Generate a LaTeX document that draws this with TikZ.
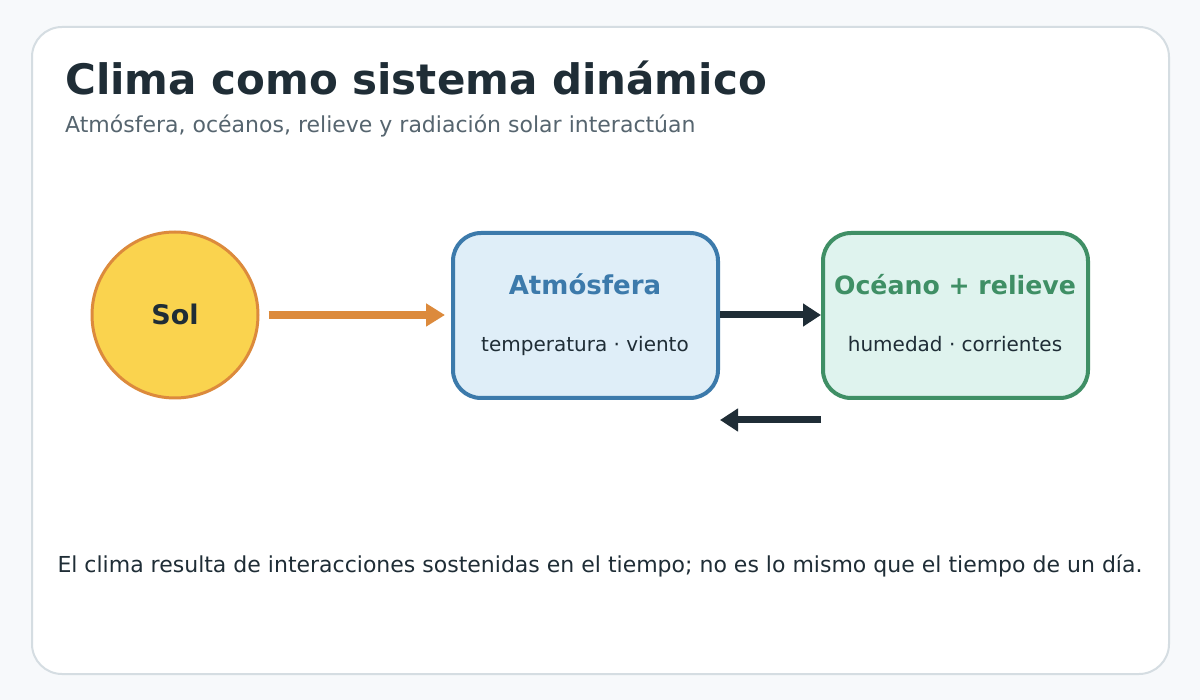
\documentclass[tikz,border=0pt]{standalone}
\usepackage{fontspec}
\setmainfont{DejaVu Sans}
\usetikzlibrary{arrows.meta,positioning}
\definecolor{pagebg}{HTML}{F7F9FB}
\definecolor{cardline}{HTML}{D5DDE2}
\definecolor{ink}{HTML}{1F2D36}
\definecolor{subink}{HTML}{56656F}
\definecolor{sunfill}{HTML}{FAD34E}
\definecolor{sunline}{HTML}{DC8A3C}
\definecolor{atmfill}{HTML}{DFEEF8}
\definecolor{atmline}{HTML}{3C7AAB}
\definecolor{ocefill}{HTML}{DFF3EE}
\definecolor{oceline}{HTML}{3F8F65}
\tikzset{
  px/.style={x=1pt,y=-1pt},
  sysbox/.style={rounded corners=28pt, line width=4pt, minimum width=265pt, minimum height=165pt, inner sep=0pt},
  boxtitle/.style={font=\fontsize{26}{30}\selectfont\bfseries, anchor=base},
  boxsub/.style={font=\fontsize{20}{24}\selectfont, text=ink, anchor=base},
  flowarrow/.style={line width=7pt, draw=ink, -{Triangle[length=18pt,width=22pt]}},
}
\begin{document}
\begin{tikzpicture}[px]
\useasboundingbox (0,0) rectangle (1200,700);
\fill[pagebg] (0,0) rectangle (1200,700);
\draw[cardline, fill=white, line width=2pt, rounded corners=30pt] (32,27) rectangle (1169,674);

\node[anchor=base west, font=\fontsize{42}{50}\selectfont\bfseries, text=ink, inner sep=0pt] (title) at (65,95) {Clima como sistema dinámico};
\node[anchor=base west, font=\fontsize{22}{26}\selectfont, text=subink, inner sep=0pt] (subtitle) at (65,133) {Atmósfera, océanos, relieve y radiación solar interactúan};

\node[circle, minimum size=166pt, inner sep=0pt, fill=sunfill, draw=sunline, line width=3pt] (sol) at (175,315) {};
\node[font=\fontsize{27}{31}\selectfont\bfseries, text=ink, anchor=base] (soltext) at (175,325) {Sol};

\node[sysbox, fill=atmfill, draw=atmline] (atm) at (585.5,315.5) {};
\node[boxtitle, text=atmline] (atmtitle) at (585,295) {Atmósfera};
\node[boxsub] (atmsub) at (585,352) {temperatura · viento};

\node[sysbox, fill=ocefill, draw=oceline] (oce) at (955.5,315.5) {};
\node[boxtitle, text=oceline, font=\fontsize{25.2}{30}\selectfont\bfseries] (ocetitle) at (955,295) {Océano + relieve};
\node[boxsub] (ocesub) at (955,352) {humedad · corrientes};

\draw[line width=8pt, draw=sunline, -{Triangle[length=19pt,width=22pt]}, shorten <=9pt, shorten >=6pt] (sol.east |- 0,315) -- (atm.west |- 0,315);
\draw[flowarrow] (atm.east |- 0,315) -- (oce.west |- 0,315);
\coordinate (backstart) at (821,420);
\coordinate (backend) at (720,420);
\draw[flowarrow] (backstart) -- (backend);

\node[anchor=base, font=\fontsize{22}{26}\selectfont, text=ink, inner sep=0pt] (note) at (600,572) {El clima resulta de interacciones sostenidas en el tiempo; no es lo mismo que el tiempo de un día.};
\end{tikzpicture}
\end{document}
